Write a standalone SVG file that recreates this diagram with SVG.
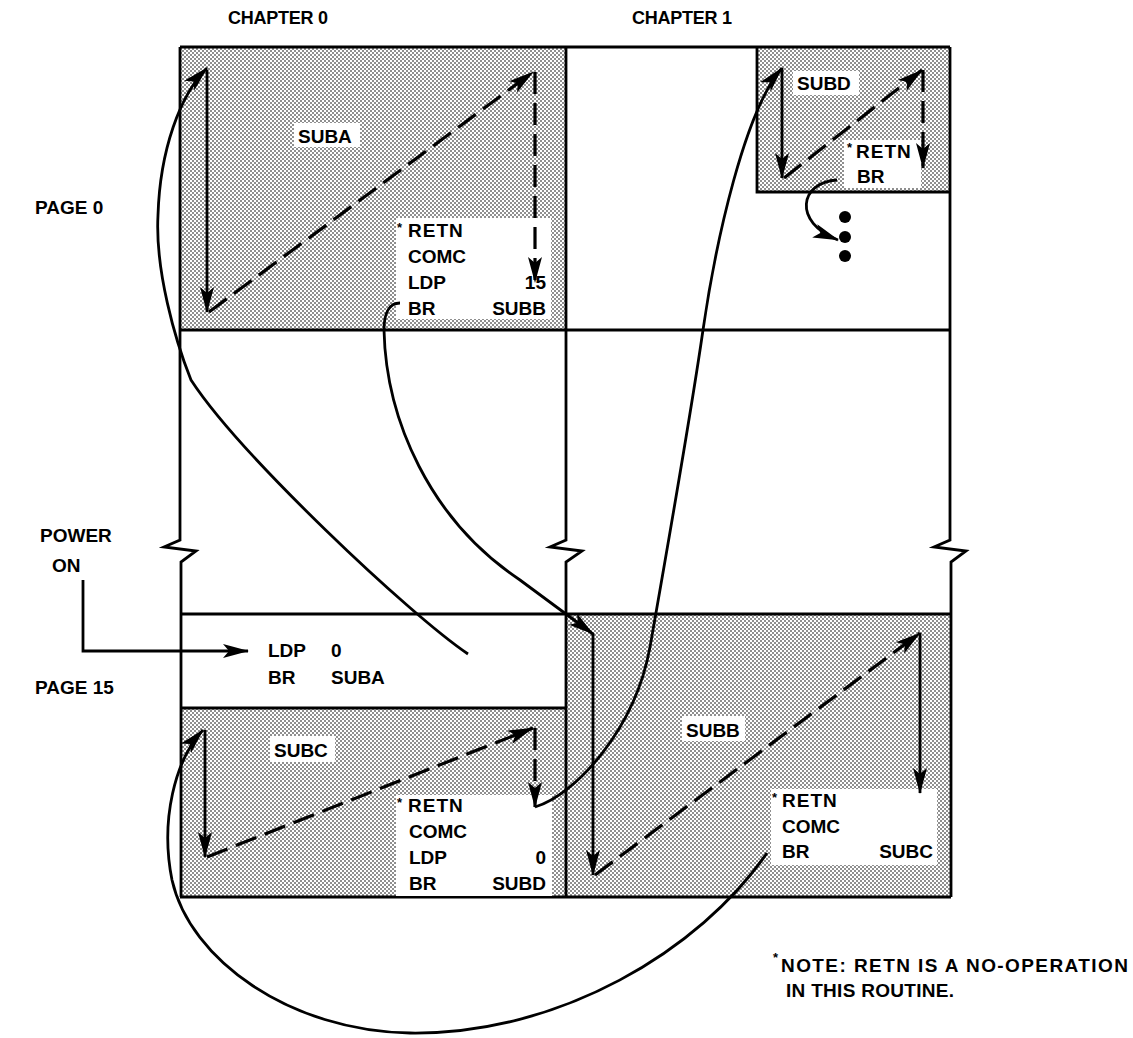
<svg xmlns="http://www.w3.org/2000/svg" width="1133" height="1038" viewBox="0 0 1133 1038">
<style>
text{font-family:"Liberation Sans",Arial,sans-serif;font-weight:bold;font-size:19px;fill:#000}
.hd{font-size:18px}
.st{font-size:13px}
.ln{fill:none;stroke:#000;stroke-width:2.8}
.fr{fill:none;stroke:#000;stroke-width:2.8;stroke-linejoin:miter}
.ds{fill:none;stroke:#000;stroke-width:3.2;stroke-dasharray:22 9}
.shade{fill:url(#dots)}
.wb{fill:#fff}
</style>
<defs>
<pattern id="dots" width="4" height="4" patternUnits="userSpaceOnUse">
<rect width="4" height="4" fill="#fff"/>
<circle cx="1" cy="1" r="0.8" fill="#000"/>
<circle cx="3" cy="3" r="0.8" fill="#000"/>
</pattern>
<marker id="ah" markerWidth="26" markerHeight="14" refX="25" refY="7" orient="auto" markerUnits="userSpaceOnUse">
<path d="M0,0 L26,7 L0,14 L6,7 z" fill="#000"/>
</marker>
</defs>

<g id="shading">
<rect class="shade" x="180" y="47" width="386" height="283"/>
<rect class="shade" x="757" y="47" width="193" height="145"/>
<rect class="shade" x="180" y="708" width="386" height="189"/>
<rect class="shade" x="566" y="614" width="384" height="283"/>
</g>

<g id="frame">
<path class="fr" d="M180,47 L950,47"/>
<path class="fr" d="M180,47 L180,540 L164,547 L196,551 L181,562 L181,897"/>
<path class="fr" d="M566,47 L566,540 L550,547 L582,551 L566,562 L566,897"/>
<path class="fr" d="M950,47 L950,540 L934,547 L966,551 L951,562 L951,897"/>
<path class="fr" d="M180,330 L950,330"/>
<path class="fr" d="M180,614 L950,614"/>
<path class="fr" d="M180,897 L951,897"/>
<path class="fr" d="M180,708 L566,708"/>
<path class="fr" d="M757,47 L757,192 L950,192"/>
</g>

<g id="headings">
<text class="hd" x="228" y="24" textLength="100">CHAPTER 0</text>
<text class="hd" x="632" y="24" textLength="100">CHAPTER 1</text>
<text x="35" y="214">PAGE 0</text>
<text x="40" y="542">POWER</text>
<text x="52" y="572">ON</text>
<text x="35" y="694">PAGE 15</text>
</g>

<g id="node-suba">
<rect class="wb" x="294" y="123" width="66" height="24"/>
<text x="298" y="143">SUBA</text>
<rect class="wb" x="396" y="218" width="155" height="101"/>
<text class="st" x="397" y="232">*</text>
<text x="408" y="237" letter-spacing="1">RETN</text>
<text x="408" y="263">COMC</text>
<text x="408" y="289">LDP</text>
<text x="546" y="289" text-anchor="end">15</text>
<text x="408" y="315">BR</text>
<text x="546" y="315" text-anchor="end">SUBB</text>
</g>

<g id="node-subd">
<rect class="wb" x="793" y="71" width="66" height="24"/>
<text x="797" y="90">SUBD</text>
<rect class="wb" x="844" y="140" width="77" height="48"/>
<text class="st" x="847" y="152">*</text>
<text x="856" y="158" letter-spacing="1">RETN</text>
<text x="857" y="183">BR</text>
<circle cx="845" cy="217" r="6" fill="#000"/>
<circle cx="845" cy="237" r="6" fill="#000"/>
<circle cx="845" cy="256" r="6" fill="#000"/>
</g>

<g id="node-boot">
<text x="268" y="657">LDP</text>
<text x="331" y="657">0</text>
<text x="268" y="684">BR</text>
<text x="331" y="684">SUBA</text>
</g>

<g id="node-subc">
<rect class="wb" x="270" y="736" width="65" height="26"/>
<text x="274" y="757">SUBC</text>
<rect class="wb" x="396" y="795" width="156" height="101"/>
<text class="st" x="397" y="807">*</text>
<text x="408" y="812" letter-spacing="1">RETN</text>
<text x="409" y="838">COMC</text>
<text x="409" y="864">LDP</text>
<text x="546" y="864" text-anchor="end">0</text>
<text x="409" y="890">BR</text>
<text x="546" y="890" text-anchor="end">SUBD</text>
</g>

<g id="node-subb">
<rect class="wb" x="682" y="716" width="63" height="25"/>
<text x="686" y="737">SUBB</text>
<rect class="wb" x="771" y="789" width="166" height="76"/>
<text class="st" x="772" y="802">*</text>
<text x="782" y="807" letter-spacing="1">RETN</text>
<text x="782" y="833">COMC</text>
<text x="782" y="858">BR</text>
<text x="933" y="858" text-anchor="end">SUBC</text>
</g>

<g id="note">
<text class="st" x="773" y="962">*</text>
<text x="781" y="972" textLength="347">NOTE: RETN IS A NO-OPERATION</text>
<text x="786" y="997" textLength="168">IN THIS ROUTINE.</text>
</g>

<g id="connectors">
<path class="ln" d="M207,70 L207,312" marker-end="url(#ah)"/>
<path class="ds" d="M209,312 L533,72" marker-end="url(#ah)"/>
<path class="ds" d="M535,72 L535,282" marker-end="url(#ah)"/>
<path class="ln" d="M782,68 L782,178" marker-end="url(#ah)"/>
<path class="ds" d="M784,178 L922,70" marker-end="url(#ah)"/>
<path class="ds" d="M923,70 L923,168" marker-end="url(#ah)"/>
<path class="ln" d="M837,180 C800,182 792,222 838,240" marker-end="url(#ah)"/>
<path class="ln" d="M205,730 L205,857" marker-end="url(#ah)"/>
<path class="ds" d="M207,857 L533,728" marker-end="url(#ah)"/>
<path class="ds" d="M535,728 L535,807" marker-end="url(#ah)"/>
<path class="ln" d="M593,633 L593,875" marker-end="url(#ah)"/>
<path class="ds" d="M595,875 L920,633" marker-end="url(#ah)"/>
<path class="ln" d="M920,633 L920,793" marker-end="url(#ah)"/>
<path class="ln" d="M83,580 L83,651 L248,651" marker-end="url(#ah)"/>
<path class="ln" d="M468,654 C410,615 240,455 191,380 C175,340 155,270 158,215 C160,150 180,95 207,68" marker-end="url(#ah)"/>
<path class="ln" d="M400,303 C390,303 384,312 384,330 C386,420 430,520 520,580 L593,634" marker-end="url(#ah)"/>
<path class="ln" d="M535,807 C575,795 635,730 650,647 C660,590 690,420 703,330 C716,240 745,110 782,68" marker-end="url(#ah)"/>
<path class="ln" d="M767,853 C700,950 560,1035 410,1033 C290,1031 190,960 172,880 C160,820 175,760 203,730" marker-end="url(#ah)"/>
</g>
</svg>
